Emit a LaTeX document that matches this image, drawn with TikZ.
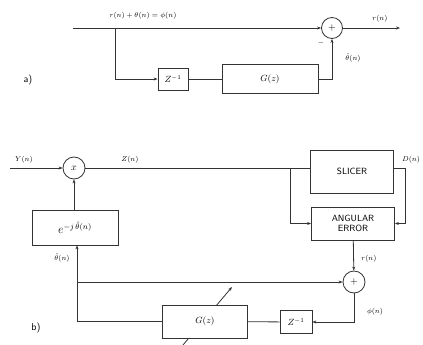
\documentclass[tikz,border=0pt]{standalone}
\usetikzlibrary{arrows.meta}
\begin{document}
\begin{tikzpicture}[x=1pt,y=-1pt,
  line width=0.8pt, draw=black!80,
  blk/.style={draw=black!80,fill=white,rectangle,inner sep=0pt,font=\sffamily\small},
  sumc/.style={draw=black!80,circle,minimum size=21pt,inner sep=0pt,font=\sffamily},
  lbl/.style={font=\sffamily\scriptsize,inner sep=0.5pt},
  arr/.style={-{Stealth[length=4pt,width=3pt]}}]
\useasboundingbox (0,0) rectangle (423,345);
% ---------- a) ----------
\coordinate (ain) at (73,28);
\node[sumc] (asum) at (332,28) {$+$};
\coordinate (aout) at (400,28);
\coordinate (abr) at (115,28);
\node[blk,minimum width=30pt,minimum height=22pt] (az) at (173,79) {$Z^{-1}$};
\node[blk,minimum width=96pt,minimum height=29pt] (ag) at (270,79) {$G(z)$};
\draw[arr] (ain) -- (asum);
\draw[arr] (asum) -- (aout);
\draw[arr] (abr) |- (az);
\draw (az) -- (ag);
\draw[arr] (ag.east) -| (asum.south);
\node[lbl] at (143,16) {$r(n)+\theta(n)=\phi(n)$};
\node[lbl] at (380,19) {$r(n)$};
\node[lbl] at (353,58) {$\hat\theta(n)$};
\node[lbl] at (321,43) {$-$};
\node[font=\sffamily] at (28,80) {a)};
% ---------- b) ----------
\coordinate (bin) at (10,168);
\node[sumc,minimum size=22pt] (mul) at (74,168) {$x$};
\node[blk,minimum width=83pt,minimum height=43pt] (sl) at (352,171.5) {SLICER};
\node[blk,minimum width=83pt,minimum height=33pt,align=center] (ae) at (353,223.5) {ANGULAR\\[-1pt]ERROR};
\node[blk,minimum width=86pt,minimum height=35pt,font=\sffamily\large] (ex) at (75,227.5) {$e^{-j\,\hat\theta(n)}$};
\node[sumc,minimum size=22pt] (bsum) at (354,282) {$+$};
\node[blk,minimum width=32pt,minimum height=23pt] (bz) at (296,322) {$Z^{-1}$};
\coordinate (gs) at (183,345);
\coordinate (ge) at (232,287);
\draw[arr] (gs) -- (ge);
\node[blk,minimum width=85pt,minimum height=33pt] (bg) at (205,321.5) {$G(z)$};
\coordinate (sbr) at (290,168);
\coordinate (dr) at (405,168);
\coordinate (fb) at (77,282);
\draw[arr] (bin) -- (mul);
\draw (mul) -- (sl.west |- 0,168);
\draw[arr] (sbr) |- (ae.west);
\draw[arr] (sl.east |- dr) -- (dr) |- (ae.east);
\draw[arr] (ae) -- (bsum);
\draw[arr] (fb) -- (bsum);
\draw[arr] (bsum.south) |- (bz.east);
\draw (bz) -- (bg);
\draw[arr] (bg.west) -| (ex.south -| fb);
\draw[arr] (ex.north -| mul) -- (mul);
\node[lbl] at (130,160) {$Z(n)$};
\node[lbl] at (24,160) {$Y(n)$};
\node[lbl] at (411,160) {$D(n)$};
\node[lbl] at (369,259) {$r(n)$};
\node[lbl] at (375,312) {$\phi(n)$};
\node[lbl] at (62,258) {$\hat\theta(n)$};
\node[font=\sffamily] at (36,328) {b)};
\end{tikzpicture}
\end{document}
